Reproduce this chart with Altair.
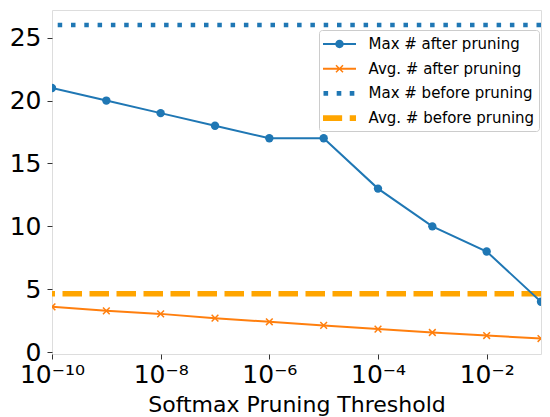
import altair as alt
import pandas as pd
import math

# ---- data ----
thresholds = [1e-10, 1e-9, 1e-8, 1e-7, 1e-6, 1e-5, 1e-4, 1e-3, 1e-2, 1e-1]
max_after = [21, 20, 19, 18, 17, 17, 13, 10, 8, 4]
avg_after = [3.6, 3.28, 3.04, 2.7, 2.41, 2.12, 1.83, 1.56, 1.32, 1.08]
max_before = [26]
avg_before = [4.65]

series_names = ["Max # after pruning", "Avg. # after pruning",
                "Max # before pruning", "Avg. # before pruning"]
series_colors = ["#1f77b4", "#ff7f0e", "#1f77b4", "#ffa500"]

x_tick_values = [1e-10, 1e-8, 1e-6, 1e-4, 1e-2]
x_tick_labels = ["10\u207b\u00b9\u2070", "10\u207b\u2078", "10\u207b\u2076",
                 "10\u207b\u2074", "10\u207b\u00b2"]
y_tick_values = [0, 5, 10, 15, 20, 25]
x_title = "Softmax Pruning Threshold"

# ---- tables ----
after_df = pd.DataFrame({"threshold": thresholds, "max": max_after, "avg": avg_after})
max_before_df = pd.DataFrame({"v": max_before})
avg_before_df = pd.DataFrame({"v": avg_before})
legend_df = pd.DataFrame({"series": series_names,
                          "threshold": [1e-5] * 4, "v": [10] * 4})

# ---- styling ----
FONT = "DejaVu Sans"
x_scale = alt.Scale(type="log", domain=[1e-10, 1e-1], nice=False)
y_scale = alt.Scale(domain=[-0.15, 27.2], nice=False, zero=False)

label_expr = ""
for v, lab in zip(x_tick_values, x_tick_labels):
    ex = round(math.log10(v))
    label_expr += f"round(log(datum.value)/LN10) == {ex} ? '{lab}' : "
label_expr += "''"

x_axis = alt.Axis(values=x_tick_values, labelExpr=label_expr, title=x_title,
                  grid=False, domain=False, tickSize=5, tickColor="#333",
                  labelFont=FONT, labelFontSize=25, labelColor="black",
                  labelPadding=3, labelFlush=False, labelOverlap=False,
                  titleFont=FONT, titleFontSize=22, titleFontWeight="normal",
                  titleColor="black", titleBaseline="alphabetic", titleY=57)
y_axis = alt.Axis(values=y_tick_values, title=None, grid=False, domain=False,
                  tickSize=5, tickColor="#333", labelFont=FONT, labelFontSize=25,
                  labelColor="black", labelPadding=6, labelFlush=False,
                  labelBaseline="middle")

X = alt.X("threshold:Q", scale=x_scale, axis=x_axis)

# legend symbol paths (line + marker), unit coordinates (r = 10px)
def fmt(v):
    return f"{v:.3f}"

def rect(x0, x1, h):
    return f"M{fmt(x0)},{fmt(-h)}H{fmt(x1)}V{fmt(h)}H{fmt(x0)}Z"

L = 1.65
line_p = rect(-L, L, 0.1)
cr = 0.42
circle_p = f"M{cr},0A{cr},{cr} 0 1,1 {-cr},0A{cr},{cr} 0 1,1 {cr},0Z"
a, e = 0.35, 0.053
xmark_p = (f"M{fmt(-a+e)},{fmt(-a-e)}L{fmt(a+e)},{fmt(a-e)}L{fmt(a-e)},{fmt(a+e)}L{fmt(-a-e)},{fmt(-a+e)}Z"
           f"M{fmt(-a-e)},{fmt(a-e)}L{fmt(a-e)},{fmt(-a-e)}L{fmt(a+e)},{fmt(-a+e)}L{fmt(-a+e)},{fmt(a+e)}Z")
dot_p = (rect(-0.97 * L, -0.69 * L, 0.23) + rect(-0.17 * L, 0.11 * L, 0.23)
         + rect(0.62 * L, 0.9 * L, 0.23))
dash_p = rect(-L, 0.16 * L, 0.28) + rect(0.62 * L, L, 0.28)
legend_paths = [line_p + circle_p, line_p + xmark_p, dot_p, dash_p]

leg = alt.Legend(orient="none", legendX=267, legendY=20, title=None,
                 labelFont=FONT, labelFontSize=15, labelColor="black",
                 labelLimit=400, symbolSize=400, symbolStrokeWidth=0,
                 symbolOpacity=1, padding=4, rowPadding=6.7, labelOffset=19,
                 symbolOffset=6.5, fillColor="rgba(255,255,255,0.8)",
                 strokeColor="#cccccc", cornerRadius=3)

base = alt.Chart(after_df)

max_line = base.mark_line(color="#1f77b4", strokeWidth=2, clip=True).encode(
    x=X, y=alt.Y("max:Q", scale=y_scale, axis=y_axis))
max_pts = base.mark_point(shape="circle", filled=True, size=70, opacity=1,
                          color="#1f77b4", clip=True).encode(
    x=X, y=alt.Y("max:Q", scale=y_scale, axis=y_axis))
avg_line = base.mark_line(color="#ff7f0e", strokeWidth=2, clip=True).encode(
    x=X, y=alt.Y("avg:Q", scale=y_scale, axis=y_axis))
avg_pts = base.mark_point(shape="M-1,-1L1,1M-1,1L1,-1", filled=False, size=45,
                          strokeWidth=1.5, opacity=1, color="#ff7f0e",
                          clip=True).encode(
    x=X, y=alt.Y("avg:Q", scale=y_scale, axis=y_axis))

max_rule = alt.Chart(max_before_df).mark_rule(
    color="#1f77b4", strokeWidth=4.5, strokeDash=[4.5, 8.8], clip=True).encode(
    y=alt.Y("v:Q", scale=y_scale, axis=y_axis))
avg_rule = alt.Chart(avg_before_df).mark_rule(
    color="#ffa500", strokeWidth=5.5, strokeDash=[19.5, 7.5], clip=True).encode(
    y=alt.Y("v:Q", scale=y_scale, axis=y_axis))

legend_layer = alt.Chart(legend_df).transform_filter("false").mark_point(
    filled=True, opacity=1, size=400).encode(
    x=X, y=alt.Y("v:Q", scale=y_scale, axis=y_axis),
    color=alt.Color("series:N", scale=alt.Scale(domain=series_names,
                                                range=series_colors), legend=leg),
    shape=alt.Shape("series:N", scale=alt.Scale(domain=series_names,
                                                range=legend_paths), legend=leg))

chart = alt.layer(avg_rule, max_rule, avg_line, avg_pts, max_line, max_pts,
                  legend_layer).properties(
    width=489, height=344,
    autosize=alt.AutoSizeParams(type="none"),
    padding={"left": 44, "top": 2, "right": 1, "bottom": 62},
).configure_view(stroke="#333", strokeWidth=1).configure(background="white")

chart.save("out.html", embed_options={"renderer": "svg", "actions": False})
